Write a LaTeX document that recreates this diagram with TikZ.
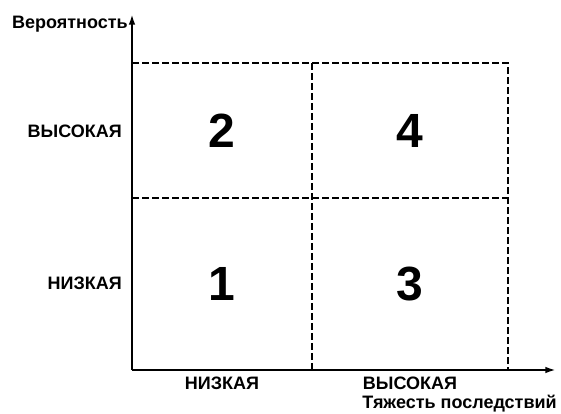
\documentclass[tikz,border=0pt]{standalone}
\usepackage{fontspec}
\setmainfont{Liberation Sans}
\usetikzlibrary{arrows.meta,positioning}

\begin{document}
\begin{tikzpicture}[x=0.75pt, y=-0.75pt,
    cell/.style={rectangle, inner sep=0pt, outer sep=0pt, font=\fontsize{36}{38}\selectfont\bfseries},
    gridline/.style={line width=1.4pt, dash pattern=on 5pt off 2.5pt},
    lbl/.style={font=\fontsize{13.5}{15}\selectfont\bfseries, inner sep=0pt},
    axis/.style={line width=2.2pt, -{Latex[length=8pt,width=5pt]}}
]
    \useasboundingbox (0,0) rectangle (561,414);

    % the four cells
    \node[cell, minimum width=135pt, minimum height=129pt] (c1) at (222, 284) {1};
    \node[cell, minimum width=135pt, minimum height=101.25pt] (c2) at (222, 130.5) {2};
    \node[cell, minimum width=147pt, minimum height=129pt] (c3) at (410, 284) {3};
    \node[cell, minimum width=147pt, minimum height=101.25pt] (c4) at (410, 130.5) {4};

    % dashed grid
    \draw[gridline] (c2.north west) -- (c4.north east) -- (c3.south east);
    \draw[gridline] (c2.south west) -- (c4.south east);
    \draw[gridline] (c2.north east) -- (c1.south east);

    % axes
    \coordinate (o) at (132, 370);
    \coordinate (ytip) at (132, 14);
    \coordinate (xtip) at (556, 370);
    \draw[axis] (o) -- (ytip);
    \draw[axis] (o) -- (xtip);

    % labels
    \node[lbl, anchor=east] (yname) at (128, 24) {Вероятность};
    \node[lbl, anchor=east] (yhigh) at (122, 131) {ВЫСОКАЯ};
    \node[lbl, anchor=east] (ylow) at (122, 283) {НИЗКАЯ};
    \node[lbl] (xlow) at (222, 383) {НИЗКАЯ};
    \node[lbl] (xhigh) at (410, 383) {ВЫСОКАЯ};
    \node[lbl, anchor=east] (xname) at (557, 404) {Тяжесть последствий};
\end{tikzpicture}
\end{document}
